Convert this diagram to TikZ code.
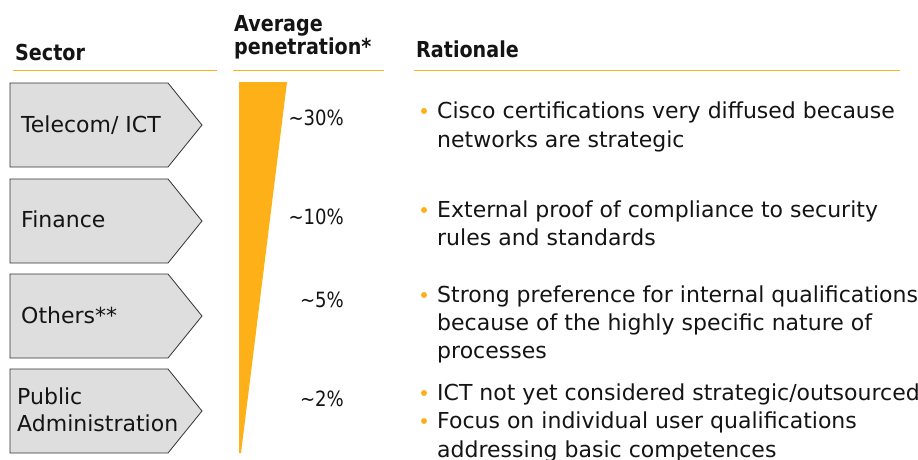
\documentclass[tikz,border=0pt]{standalone}
\usepackage{fontspec}
\setmainfont{DejaVu Sans}
\newfontfamily\headfont[FakeStretch=0.87]{DejaVu Sans Bold}
\newfontfamily\pctfont[FakeStretch=0.86]{DejaVu Sans}
\definecolor{gold}{RGB}{253,176,23}
\definecolor{boxgray}{RGB}{222,222,222}
\definecolor{txt}{RGB}{20,20,20}
\begin{document}
\begin{tikzpicture}[x=1pt,y=-1pt,
  body/.style={font=\fontsize{22}{28}\selectfont, text=txt, inner sep=0pt, anchor=base west},
  head/.style={font=\headfont\fontsize{22}{26}\selectfont, text=txt, inner sep=0pt, anchor=base west},
  pct/.style={font=\pctfont\fontsize{21}{24}\selectfont, text=txt, inner sep=0pt, anchor=base east},
  secbox/.style={draw=black!80, line width=0.8pt, fill=boxgray},
  rule/.style={draw=gold, line width=1pt},
  dot/.style={circle, fill=gold, inner sep=0pt, minimum size=6pt}]
\useasboundingbox (0,0) rectangle (918,460);
% headers
\node[head] (hsec) at (15,61) {Sector};
\node[head] (havg) at (234,32) {Average};
\node[head] (hpen) at (234,55) {penetration*};
\node[head] (hrat) at (416,58) {Rationale};
\draw[rule] (13,71) -- (217,71);
\draw[rule] (233,71) -- (384,71);
\draw[rule] (414,71) -- (900,71);
% sector boxes
\foreach \t/\n in {83/1,179/2,274/3,369/4}{
  \draw[secbox] (10,\t) -- (168,\t) -- (202,\t+42) -- (168,\t+84) -- (10,\t+84) -- cycle;
}
\node[body] (s1) at (21,132) {Telecom/ ICT};
\node[body] (s2) at (21,227) {Finance};
\node[body] (s3) at (21,323) {Others**};
\node[body] (s4a) at (17,404) {Public};
\node[body] (s4b) at (17,431) {Administration};
% wedge
\fill[gold] (239,82) -- (287,82) -- (241,453) -- (239,453) -- cycle;
% percentages
\node[pct] (p1) at (344,125) {\textasciitilde30\%};
\node[pct] (p2) at (344,224) {\textasciitilde10\%};
\node[pct] (p3) at (344,307) {\textasciitilde5\%};
\node[pct] (p4) at (344,406) {\textasciitilde2\%};
% rationale
\node[dot] (d1) at (424,111) {};
\node[body] (r1a) at (437,118) {Cisco certifications very diffused because};
\node[body] (r1b) at (437,147) {networks are strategic};
\node[dot] (d2) at (424,210) {};
\node[body] (r2a) at (437,217) {External proof of compliance to security};
\node[body] (r2b) at (437,245) {rules and standards};
\node[dot] (d3) at (424,295) {};
\node[body] (r3a) at (437,302) {Strong preference for internal qualifications};
\node[body] (r3b) at (437,330) {because of the highly specific nature of};
\node[body] (r3c) at (437,358) {processes};
\node[dot] (d4) at (424,393) {};
\node[body] (r4a) at (437,400) {ICT not yet considered strategic/outsourced};
\node[dot] (d5) at (424,421) {};
\node[body] (r5a) at (437,428) {Focus on individual user qualifications};
\node[body] (r5b) at (437,457) {addressing basic competences};
\end{tikzpicture}
\end{document}
